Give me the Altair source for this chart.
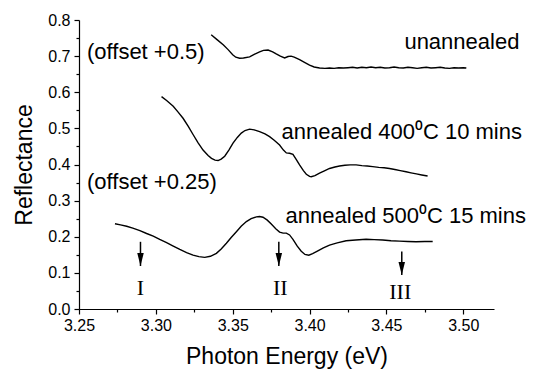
import altair as alt
import pandas as pd

# ---- curve data (displayed values, offsets already applied) ----
top_x = [3.336, 3.340, 3.344, 3.347, 3.350, 3.352, 3.3545, 3.357, 3.361, 3.364, 3.3675, 3.370, 3.373,
         3.376, 3.378, 3.381, 3.3838, 3.386, 3.388, 3.390, 3.3935, 3.397, 3.400, 3.403, 3.4065, 3.410,
         3.413, 3.416, 3.419, 3.422, 3.425, 3.428, 3.431, 3.434, 3.437, 3.440, 3.443, 3.446, 3.449,
         3.452, 3.455, 3.458, 3.461, 3.464, 3.467, 3.470, 3.473, 3.476, 3.479, 3.482, 3.485, 3.488,
         3.491, 3.494, 3.497, 3.500, 3.502]
top_y = [0.759, 0.745, 0.731, 0.718, 0.704, 0.697, 0.694, 0.695, 0.698, 0.705, 0.712, 0.716, 0.717,
         0.712, 0.707, 0.700, 0.695, 0.699, 0.700, 0.697, 0.690, 0.682, 0.675, 0.670, 0.667, 0.666,
         0.667, 0.666, 0.668, 0.667, 0.668, 0.669, 0.667, 0.669, 0.668, 0.670, 0.668, 0.669, 0.667,
         0.668, 0.670, 0.668, 0.667, 0.669, 0.668, 0.666, 0.668, 0.669, 0.667, 0.668, 0.669, 0.667,
         0.666, 0.668, 0.667, 0.668, 0.667]

mid_x = [3.3037, 3.307, 3.3113, 3.3145, 3.3177, 3.321, 3.3242, 3.3275, 3.3307, 3.334, 3.3362, 3.3385,
         3.3405, 3.3425, 3.3448, 3.3475, 3.3502, 3.353, 3.3556, 3.358, 3.361, 3.364, 3.3675, 3.371,
         3.374, 3.377, 3.3805, 3.383, 3.3849, 3.387, 3.3892, 3.3915, 3.3935, 3.396, 3.3979, 3.400,
         3.4011, 3.4035, 3.4065, 3.410, 3.413, 3.4165, 3.4195, 3.423, 3.4265, 3.4303, 3.434, 3.4375,
         3.4411, 3.445, 3.4485, 3.452, 3.4555, 3.459, 3.4628, 3.466, 3.4695, 3.473, 3.4768]
mid_y = [0.588, 0.577, 0.561, 0.545, 0.528, 0.506, 0.483, 0.460, 0.440, 0.425, 0.417, 0.412,
         0.411, 0.415, 0.423, 0.440, 0.459, 0.475, 0.487, 0.494, 0.498, 0.496, 0.491, 0.485,
         0.477, 0.467, 0.454, 0.440, 0.432, 0.431, 0.428, 0.413, 0.399, 0.383, 0.373, 0.367,
         0.366, 0.369, 0.376, 0.383, 0.389, 0.393, 0.396, 0.398, 0.399, 0.399, 0.397, 0.396,
         0.394, 0.392, 0.391, 0.389, 0.386, 0.383, 0.380, 0.377, 0.374, 0.371, 0.368]

bot_x = [3.2734, 3.277, 3.281, 3.285, 3.2896, 3.294, 3.2983, 3.3025, 3.307, 3.311, 3.3156, 3.320,
         3.3242, 3.328, 3.3318, 3.3355, 3.3394, 3.3425, 3.3459, 3.349, 3.3524, 3.3555, 3.3589, 3.362,
         3.3654, 3.3675, 3.3697, 3.3725, 3.3751, 3.378, 3.3805, 3.3828, 3.3849, 3.387, 3.3892, 3.392,
         3.3946, 3.397, 3.3995, 3.402, 3.4054, 3.409, 3.413, 3.418, 3.4238, 3.430, 3.4368, 3.442,
         3.4476, 3.453, 3.4584, 3.464, 3.4693, 3.475, 3.4801]
bot_y = [0.236, 0.233, 0.229, 0.224, 0.217, 0.209, 0.202, 0.193, 0.184, 0.175, 0.165, 0.156,
         0.149, 0.145, 0.143, 0.146, 0.154, 0.166, 0.182, 0.198, 0.214, 0.229, 0.242, 0.250,
         0.255, 0.256, 0.254, 0.246, 0.235, 0.222, 0.213, 0.210, 0.210, 0.205, 0.193, 0.174,
         0.160, 0.151, 0.149, 0.153, 0.161, 0.169, 0.177, 0.183, 0.189, 0.191, 0.193, 0.192,
         0.191, 0.189, 0.188, 0.187, 0.186, 0.187, 0.187]

# ---- arrows and labels ----
arrow_x = [3.29, 3.38, 3.46]
arrow_top = [0.186, 0.186, 0.159]
arrow_tip = [0.119, 0.119, 0.094]
arrow_head = [0.137, 0.137, 0.112]
roman_labels = ["I", "II", "III"]
roman_x = [3.29, 3.381, 3.459]
roman_y = [0.058, 0.058, 0.048]

note_text = ["(offset +0.5)", "(offset +0.25)", "unannealed",
             "annealed 400\u2070C 10 mins", "annealed 500\u2070C 15 mins"]
note_x = [3.2552, 3.2552, 3.4617, 3.3818, 3.3844]
note_y = [0.712, 0.352, 0.740, 0.491, 0.257]

x_ticks = [round(3.25 + 0.025 * i, 3) for i in range(11)]
y_ticks = [round(0.05 * i, 2) for i in range(17)]

curves = pd.concat([
    pd.DataFrame({"x": top_x, "y": top_y, "s": "unannealed"}),
    pd.DataFrame({"x": mid_x, "y": mid_y, "s": "400"}),
    pd.DataFrame({"x": bot_x, "y": bot_y, "s": "500"}),
])
arrows = pd.DataFrame({"x": arrow_x, "y": arrow_top, "y2": arrow_tip, "h": arrow_head})
romans = pd.DataFrame({"x": roman_x, "y": roman_y, "t": roman_labels})
notes = pd.DataFrame({"x": note_x, "y": note_y, "t": note_text})

xs = alt.Scale(domain=[3.25, 3.52], nice=False, zero=False)
ys = alt.Scale(domain=[0, 0.8], nice=False, zero=False)

x_axis = alt.Axis(
    title="Photon Energy (eV)", values=x_ticks,
    labelExpr="abs(datum.value*20 - round(datum.value*20)) < 0.01 ? format(datum.value, '.2f') : ''",
    tickSize={"condition": {"test": "abs(datum.value*20 - round(datum.value*20)) < 0.01", "value": 5}, "value": 3},
    labelPadding=3, titlePadding=12, labelFlush=False,
)
y_axis = alt.Axis(
    title="Reflectance", values=y_ticks,
    labelExpr="abs(datum.value*10 - round(datum.value*10)) < 0.01 ? format(datum.value, '.1f') : ''",
    tickSize={"condition": {"test": "abs(datum.value*10 - round(datum.value*10)) < 0.01", "value": 5}, "value": 3},
    labelPadding=4, titlePadding=11, labelFlush=False,
)

X = alt.X("x:Q", scale=xs, axis=x_axis)
Y = alt.Y("y:Q", scale=ys, axis=y_axis)

lines = alt.Chart(curves).mark_line(color="black", strokeWidth=1.4).encode(
    x=X, y=Y, detail="s:N", order="x:Q"
)
shafts = alt.Chart(arrows).mark_rule(color="black", strokeWidth=1.5).encode(
    x=X, y=Y, y2="y2:Q"
)
heads = alt.Chart(arrows).mark_point(
    shape="M-0.5,-1L0.5,-1L0,1Z", filled=True, color="black", opacity=1, size=169, strokeWidth=0
).encode(x=X, y=alt.Y("h:Q", scale=ys, axis=y_axis))
roman_text = alt.Chart(romans).mark_text(
    font="Liberation Serif", fontSize=22, align="center", baseline="middle", color="black"
).encode(x=X, y=Y, text="t:N")
note_marks = alt.Chart(notes).mark_text(
    font="Liberation Sans", fontSize=22, align="left", baseline="middle", color="black"
).encode(x=X, y=Y, text="t:N")

chart = alt.layer(lines, shafts, heads, roman_text, note_marks).properties(
    width=415, height=289,
    autosize=alt.AutoSizeParams(type="none"),
    padding={"left": 79, "top": 20, "right": 47, "bottom": 62},
    background="white",
).configure_view(stroke=None).configure_axis(
    grid=False, domainColor="black", tickColor="black", labelColor="black", titleColor="black",
    domainWidth=1.2, tickWidth=1.2, labelFont="Liberation Sans", titleFont="Liberation Sans",
    labelFontSize=16, titleFontSize=23, titleFontWeight="normal",
)

chart.save("out.html", embed_options={"renderer": "svg", "actions": False})
